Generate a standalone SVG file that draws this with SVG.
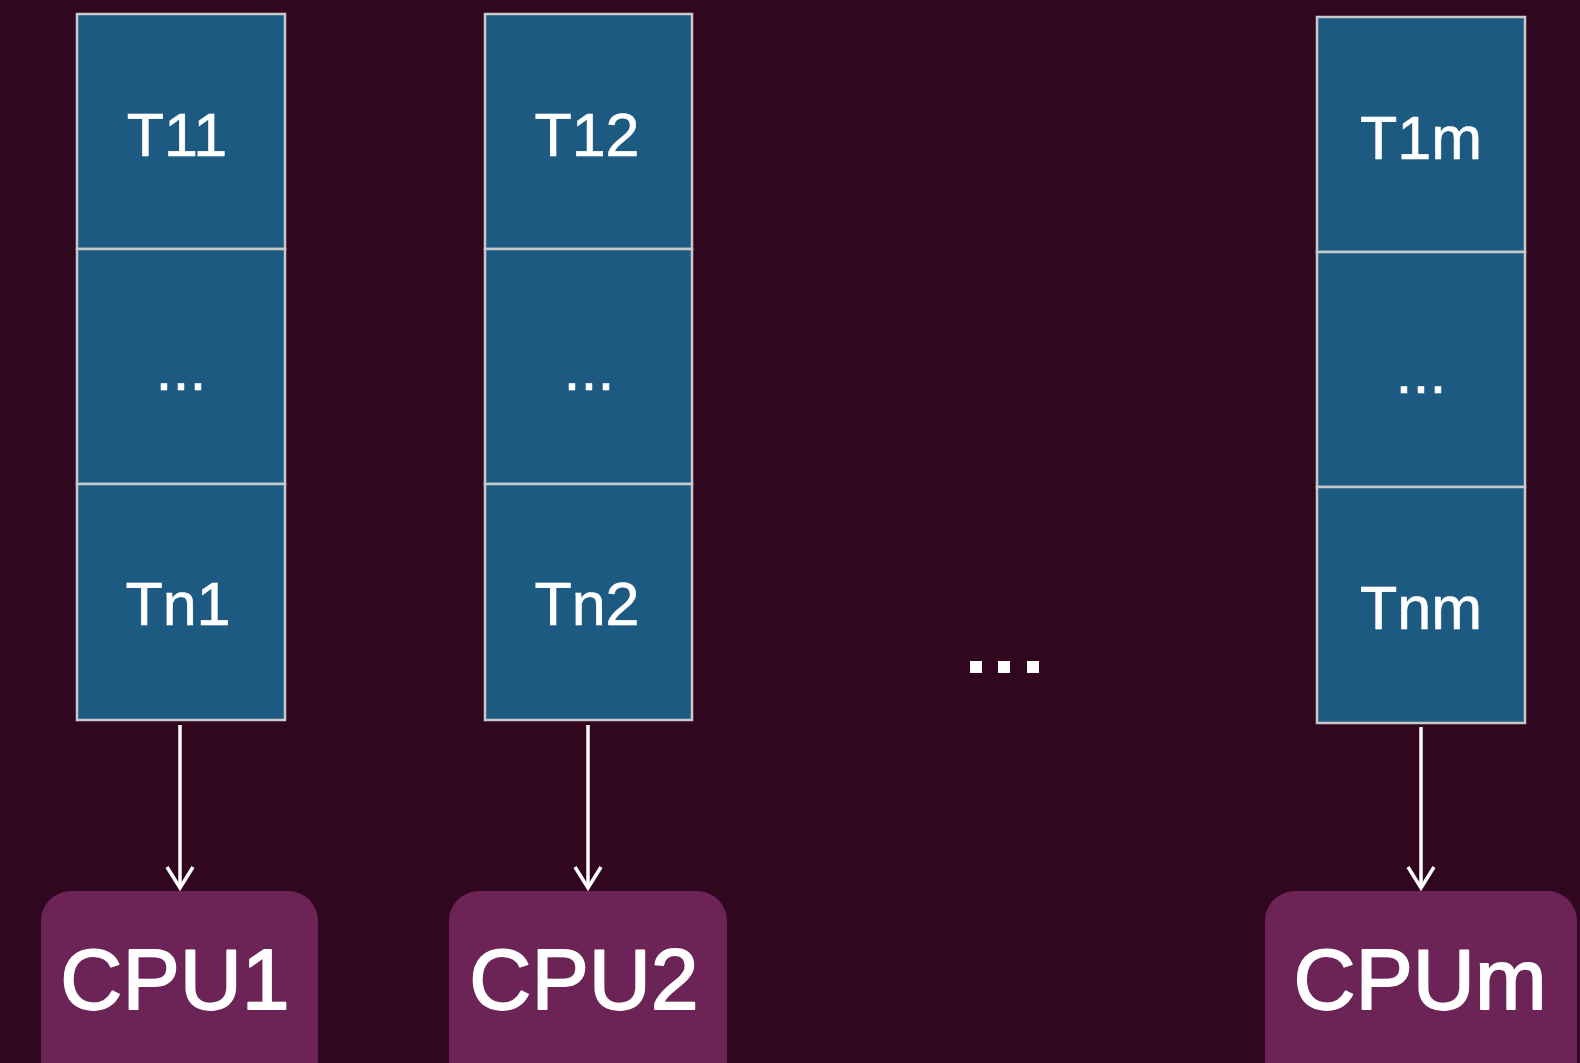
<svg xmlns="http://www.w3.org/2000/svg" width="1580" height="1063" viewBox="0 0 1580 1063">
<defs>
<style>
.cell{fill:#1c5a82;stroke:#c9c9c9;stroke-width:2.5}
.cpu{fill:#6c2457}
.t{font-family:"Liberation Sans",Arial,sans-serif;font-size:61px;fill:#ffffff;stroke:#ffffff;stroke-width:0.6;text-anchor:middle}
.c{font-family:"Liberation Sans",Arial,sans-serif;font-size:86px;fill:#ffffff;stroke:#ffffff;stroke-width:1.8;stroke-linejoin:round;text-anchor:middle}
.arr{stroke:#ffffff;stroke-width:3.5;fill:none}
</style>
<marker id="ah" markerWidth="28" markerHeight="32" refX="23" refY="15" orient="auto" markerUnits="userSpaceOnUse">
<path d="M2,2 L23,15 L2,28" fill="none" stroke="#ffffff" stroke-width="3.5" stroke-linejoin="miter"/>
</marker>
</defs>
<rect x="0" y="0" width="1580" height="1063" fill="#30071f"/>
<g id="col1">
<rect class="cell" x="77" y="14" width="208" height="235"/>
<rect class="cell" x="77" y="249" width="208" height="235"/>
<rect class="cell" x="77" y="484" width="208" height="236"/>
<text class="t" x="177" y="156">T11</text>
<text class="t" x="181" y="390">...</text>
<text class="t" x="178" y="625">Tn1</text>
</g>
<g id="col2">
<rect class="cell" x="485" y="14" width="207" height="235"/>
<rect class="cell" x="485" y="249" width="207" height="235"/>
<rect class="cell" x="485" y="484" width="207" height="236"/>
<text class="t" x="587" y="156">T12</text>
<text class="t" x="589" y="390">...</text>
<text class="t" x="587" y="625">Tn2</text>
</g>
<g id="colm">
<rect class="cell" x="1317" y="17" width="208" height="235"/>
<rect class="cell" x="1317" y="252" width="208" height="235"/>
<rect class="cell" x="1317" y="487" width="208" height="236"/>
<text class="t" x="1421" y="159">T1m</text>
<text class="t" x="1421" y="393">...</text>
<text class="t" x="1421" y="629">Tnm</text>
</g>
<g id="dots" fill="#ffffff">
<rect x="970" y="661" width="12" height="12"/>
<rect x="998" y="661" width="12" height="12"/>
<rect x="1027" y="661" width="12" height="12"/>
</g>
<g id="cpu1">
<rect class="cpu" x="41" y="891" width="277" height="200" rx="30"/>
<text class="c" x="175" y="1009">CPU1</text>
</g>
<g id="cpu2">
<rect class="cpu" x="449" y="891" width="278" height="200" rx="30"/>
<text class="c" x="584" y="1009">CPU2</text>
</g>
<g id="cpum">
<rect class="cpu" x="1265" y="891" width="312" height="200" rx="30"/>
<text class="c" x="1420" y="1009">CPUm</text>
</g>
<g id="connectors">
<line class="arr" x1="180" y1="725" x2="180" y2="888" marker-end="url(#ah)"/>
<line class="arr" x1="588" y1="725" x2="588" y2="888" marker-end="url(#ah)"/>
<line class="arr" x1="1421" y1="727" x2="1421" y2="888" marker-end="url(#ah)"/>
</g>
</svg>
